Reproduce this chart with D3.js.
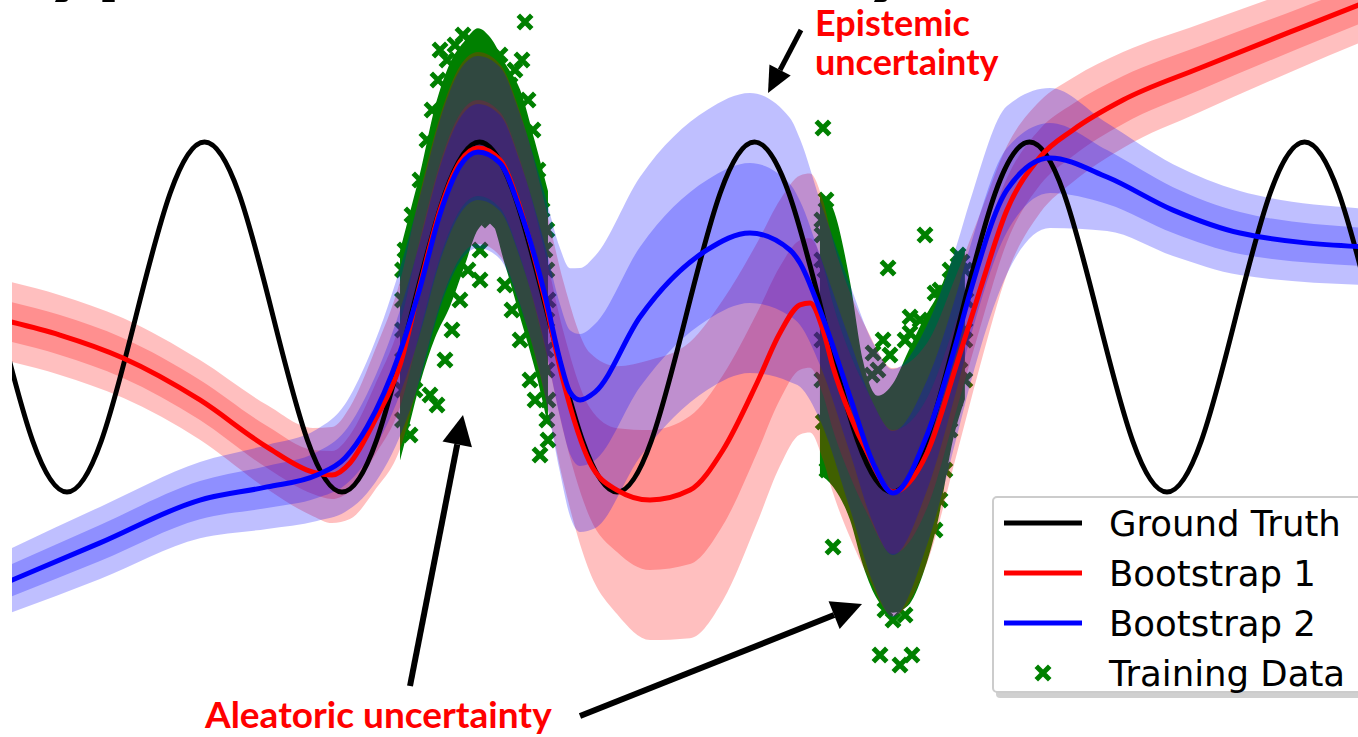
<!DOCTYPE html>
<html>
<head>
<meta charset="utf-8">
<script src="https://cdn.jsdelivr.net/npm/d3@7"></script>
<style>
  body { margin: 0; background: #fff; }
  svg { display: block; }
</style>
</head>
<body>
<svg id="chart" width="1358" height="737"></svg>
<script>
// ground truth, read every 1/8 period
const truthX = [-0.5, -0.25, 0, 0.25, 0.5, 0.75, 1, 1.25, 1.5, 1.75, 2, 2.25, 2.5, 2.75, 3, 3.25, 3.5, 3.75,
    4, 4.25, 4.5, 4.75, 5, 5.25, 5.5, 5.75, 6, 6.25, 6.5, 6.75, 7, 7.25, 7.5, 7.75, 8, 8.25, 8.5, 8.75, 9, 9.25, 9.5];
const truthY = [0, -0.707, -1, -0.707, 0, 0.707, 1, 0.707,
    0, -0.707, -1, -0.707, 0, 0.707, 1, 0.707,
    0, -0.707, -1, -0.707, 0, 0.707, 1, 0.707,
    0, -0.707, -1, -0.707, 0, 0.707, 1, 0.707,
    0, -0.707, -1, -0.707, 0, 0.707, 1, 0.707,
    0];

// bootstrap 1 (red): mean and std
const redX = [-0.45, -0.051, 0.407, 0.967, 1.455, 1.789, 1.927, 2.058, 2.24, 2.422, 2.567, 2.713, 2.858, 2.989,
    3.149, 3.295, 3.476, 3.607, 3.804, 4.0, 4.24, 4.531, 4.771, 5.018, 5.185, 5.331, 5.404, 5.498, 5.571, 5.695,
    5.818, 6.007, 6.255, 6.473, 6.64, 6.836, 7.076, 7.316, 7.68, 8.24, 8.967, 9.45];
const redMean = [-0.02, -0.103, -0.234, -0.474, -0.743, -0.886, -0.903, -0.834, -0.589, -0.274, 0.183, 0.611, 0.886, 0.966,
    0.897, 0.623, 0.097, -0.36, -0.834, -0.989, -1.046, -0.989, -0.76, -0.377, -0.091, 0.069, 0.08, -0.074, -0.286, -0.56,
    -0.771, -1.0, -0.777, -0.263, 0.154, 0.611, 0.914, 1.069, 1.24, 1.423, 1.651, 1.8];
const redSd = [0.114, 0.114, 0.114, 0.114, 0.12, 0.126, 0.137, 0.16, 0.2, 0.24, 0.263, 0.269, 0.274, 0.274,
    0.274, 0.274, 0.274, 0.286, 0.314, 0.354, 0.4, 0.423, 0.429, 0.4, 0.38, 0.37, 0.37, 0.37, 0.36, 0.35,
    0.35, 0.354, 0.314, 0.257, 0.217, 0.183, 0.16, 0.149, 0.137, 0.126, 0.114, 0.109];

// bootstrap 2 (blue): mean and std
const blueX = [-0.45, 0.24, 0.967, 1.455, 1.818, 2.022, 2.182, 2.422, 2.567, 2.713, 2.858, 2.989, 3.149, 3.295,
    3.476, 3.585, 3.658, 3.731, 3.84, 4.167, 4.655, 4.967, 5.258, 5.331, 5.476, 5.695, 5.862, 6.007, 6.255, 6.473,
    6.567, 6.836, 7.149, 7.564, 8.044, 8.531, 9.45];
const blueMean = [-1.52, -1.291, -1.046, -0.971, -0.903, -0.806, -0.629, -0.2, 0.166, 0.589, 0.863, 0.943, 0.88, 0.611,
    0.126, -0.246, -0.429, -0.474, -0.429, 0.0, 0.383, 0.48, 0.383, 0.309, 0.04, -0.457, -0.834, -1.006, -0.674, -0.131,
    0.137, 0.726, 0.909, 0.8, 0.611, 0.48, 0.4];
const blueSd = [0.091, 0.103, 0.109, 0.12, 0.131, 0.154, 0.189, 0.24, 0.263, 0.269, 0.274, 0.274, 0.274, 0.274,
    0.286, 0.32, 0.354, 0.377, 0.389, 0.4, 0.4, 0.4, 0.377, 0.354, 0.314, 0.32, 0.343, 0.354, 0.314, 0.274,
    0.263, 0.24, 0.2, 0.154, 0.131, 0.12, 0.109];

// training data: dense core of each cluster (low / high edge) ...
const data1X = [2.422, 2.495, 2.567, 2.676, 2.785, 2.895, 2.989, 3.076, 3.185, 3.295, 3.404, 3.498];
const data1Lo = [-0.82, -0.6, -0.38, -0.12, 0.06, 0.3, 0.5, 0.55, 0.3, 0.0, -0.3, -0.62];
const data1Hi = [0.38, 0.6, 0.82, 1.2, 1.45, 1.58, 1.65, 1.6, 1.45, 1.3, 1.0, 0.72];
const data2X = [5.476, 5.571, 5.695, 5.789, 5.898, 6.007, 6.116, 6.225, 6.335, 6.444, 6.53];
const data2Lo = [-0.9, -0.97, -1.16, -1.42, -1.62, -1.69, -1.65, -1.47, -1.16, -0.7, -0.47];
const data2Hi = [0.71, 0.62, 0.2, -0.25, -0.45, -0.38, -0.2, -0.02, 0.13, 0.33, 0.38];

// ... and the loose points around it
const trainPts = [
    [3.331, 1.686], [2.88, 1.611], [2.931, 1.583], [2.822, 1.554], [2.713, 1.526], [2.764, 1.469], [3.149, 1.497],
    [3.309, 1.469], [3.258, 1.411], [3.222, 1.326], [2.698, 1.354], [2.655, 1.183], [2.618, 1.011], [2.567, 0.783],
    [2.509, 0.583], [2.458, 0.383], [2.48, 0.211], [3.353, 1.24], [3.389, 1.069], [3.425, 0.84], [3.455, 0.611],
    [3.476, 0.383], [3.498, 0.097], [3.484, -0.189], [3.498, -0.474], [3.498, -0.703], [3.44, -0.789],
    [2.495, -0.674], [2.691, -0.503], [2.64, -0.446], [2.531, -0.417], [3.004, 0.211], [3.004, 0.383],
    [3.076, 0.554], [2.749, -0.246], [2.8, -0.074], [2.858, 0.097], [2.916, 0.269], [3.185, 0.183],
    [3.236, 0.04], [3.295, -0.131], [3.367, -0.36], [3.404, -0.474],
    [2.44, 0.269], [2.44, 0.097], [2.44, -0.074], [2.44, -0.246], [2.44, -0.417], [2.44, -0.589],
    [3.49, 0.497], [3.49, 0.269], [3.49, -0.017], [3.49, -0.303], [3.49, -0.589],
    [5.498, 1.08], [5.52, 0.669], [5.491, 0.469], [5.513, 0.269], [5.549, 0.097], [5.971, 0.28], [6.24, 0.469],
    [5.935, -0.131], [6.313, 0.137], [6.131, 0], [6.131, -0.091], [5.862, -0.206], [5.855, -0.331],
    [6.349, 0.154], [6.422, 0.269], [6.48, 0.354], [6.509, 0.314], [6.204, -0.017], [6.095, -0.131],
    [5.985, -0.217], [5.898, -0.303], [5.913, -1.931], [6.058, -1.989], [6.145, -1.931], [6.095, -1.703],
    [5.949, -1.674], [6.007, -1.731], [5.571, -1.314], [5.527, -0.874], [5.644, -0.931], [6.313, -1.217],
    [6.349, -1.046], [6.385, -0.874], [6.422, -0.646], [6.458, -0.474], [6.495, -0.303], [6.531, -0.074],
    [6.538, 0.097],
    [5.49, 0.554], [5.49, 0.326], [5.49, -0.131], [5.49, -0.36], [5.5, -0.6],
    [6.53, 0.269], [6.53, -0.131], [6.53, -0.36]
];

const legendLabels = ['Ground Truth', 'Bootstrap 1', 'Bootstrap 2', 'Training Data'];
const legendColors = ['#000000', '#ff0000', '#0000ff', '#008000'];

const W = 1358, H = 737;
const GREEN = '#008000';

const svg = d3.select('#chart');
svg.append('rect').attr('width', W).attr('height', H).attr('fill', '#fff');

// SCALES
const x = d3.scaleLinear().domain([-0.4, 9.4]).range([12, 1359.5]);
const y = d3.scaleLinear().domain([-1, 1]).range([492, 142]);

// TITLE (cut off by the top edge)
svg.append('text')
    .attr('x', -8)
    .attr('y', -15)
    .attr('font-family', 'Lato')
    .attr('font-weight', 700)
    .attr('font-size', 100)
    .attr('fill', '#000')
    .text('Types of Uncertainty');

svg.append('clipPath').attr('id', 'plot-clip')
    .append('rect').attr('x', 12).attr('y', 0).attr('width', W - 12).attr('height', H);
const g = svg.append('g').attr('clip-path', 'url(#plot-clip)');

// TRAINING DATA (drawn first, bands go over it)
const massArea = d3.area()
    .x(d => x(d[0]))
    .y0(d => y(d[1]))
    .y1(d => y(d[2]))
    .curve(d3.curveMonotoneX);

[[data1X, data1Lo, data1Hi], [data2X, data2Lo, data2Hi]].forEach(([xs, lo, hi]) => {
    g.append('path')
        .datum(xs.map((v, i) => [v, lo[i], hi[i]]))
        .attr('d', massArea)
        .attr('fill', GREEN);
});

const cross = d3.symbol().type(d3.symbolX).size(120);
g.append('g').selectAll('path')
    .data(trainPts)
    .enter()
    .append('path')
    .attr('transform', d => `translate(${x(d[0])},${y(d[1])})`)
    .attr('d', cross)
    .attr('fill', 'none')
    .attr('stroke', GREEN)
    .attr('stroke-width', 5);

// BANDS
function drawBands(xs, mean, sd, color) {
    const rows = xs.map((v, i) => ({ x: v, m: mean[i], s: sd[i] }));
    [2, 1].forEach(k => {
        const band = d3.area()
            .x(d => x(d.x))
            .y0(d => y(d.m - k * d.s))
            .y1(d => y(d.m + k * d.s))
            .curve(d3.curveMonotoneX);
        g.append('path')
            .datum(rows)
            .attr('d', band)
            .attr('fill', color)
            .attr('fill-opacity', 0.25);
    });
}
drawBands(redX, redMean, redSd, '#ff0000');
drawBands(blueX, blueMean, blueSd, '#0000ff');

// LINES
function drawLine(xs, ys, color, curve) {
    const line = d3.line().x(d => x(d[0])).y(d => y(d[1])).curve(curve);
    g.append('path')
        .datum(xs.map((v, i) => [v, ys[i]]))
        .attr('d', line)
        .attr('fill', 'none')
        .attr('stroke', color)
        .attr('stroke-width', 5)
        .attr('stroke-linejoin', 'round');
}
drawLine(truthX, truthY, '#000000', d3.curveNatural);
drawLine(redX, redMean, '#ff0000', d3.curveMonotoneX);
drawLine(blueX, blueMean, '#0000ff', d3.curveMonotoneX);

// LEGEND
const lg = svg.append('g');
lg.append('rect').attr('x', 996).attr('y', 502).attr('width', 380).attr('height', 196)
    .attr('fill', '#d0d0d0').attr('rx', 4);
lg.append('rect').attr('x', 993).attr('y', 497).attr('width', 380).attr('height', 195)
    .attr('fill', '#fff').attr('stroke', '#cccccc').attr('stroke-width', 2).attr('rx', 4);

legendLabels.forEach((label, i) => {
    const cy = 523 + i * 50;
    if (i < 3) {
        lg.append('line')
            .attr('x1', 1004).attr('x2', 1082)
            .attr('y1', cy).attr('y2', cy)
            .attr('stroke', legendColors[i])
            .attr('stroke-width', 5);
    } else {
        lg.append('path')
            .attr('transform', `translate(1043,${cy})`)
            .attr('d', cross)
            .attr('fill', 'none')
            .attr('stroke', legendColors[i])
            .attr('stroke-width', 5);
    }
    lg.append('text')
        .attr('x', 1109)
        .attr('y', cy + 12.5)
        .attr('font-family', 'DejaVu Sans')
        .attr('font-size', 35.5)
        .attr('fill', '#000')
        .text(label);
});

// ANNOTATIONS
function arrow(x1, y1, x2, y2, width, headLen, headW) {
    const a = Math.atan2(y2 - y1, x2 - x1);
    const bx = x2 - headLen * Math.cos(a), by = y2 - headLen * Math.sin(a);
    const nx = -Math.sin(a) * headW / 2, ny = Math.cos(a) * headW / 2;
    svg.append('line')
        .attr('x1', x1).attr('y1', y1).attr('x2', bx).attr('y2', by)
        .attr('stroke', '#000').attr('stroke-width', width);
    svg.append('path')
        .attr('d', `M${x2},${y2}L${bx + nx},${by + ny}L${bx - nx},${by - ny}Z`)
        .attr('fill', '#000');
}

const labelFont = 'Lato, "Open Sans", sans-serif';
svg.append('text').attr('x', 815).attr('y', 36)
    .attr('font-family', labelFont).attr('font-weight', 700).attr('font-size', 36)
    .attr('fill', '#ff0000').text('Epistemic');
svg.append('text').attr('x', 815).attr('y', 75)
    .attr('font-family', labelFont).attr('font-weight', 700).attr('font-size', 36)
    .attr('fill', '#ff0000').text('uncertainty');
arrow(801, 30, 768, 93, 5, 26, 24);

svg.append('text').attr('x', 205).attr('y', 728)
    .attr('font-family', labelFont).attr('font-weight', 700).attr('font-size', 37)
    .attr('fill', '#ff0000').text('Aleatoric uncertainty');
arrow(410, 686, 463, 415, 6, 30, 30);
arrow(580, 716, 862, 604, 6, 30, 30);
</script>
</body>
</html>
